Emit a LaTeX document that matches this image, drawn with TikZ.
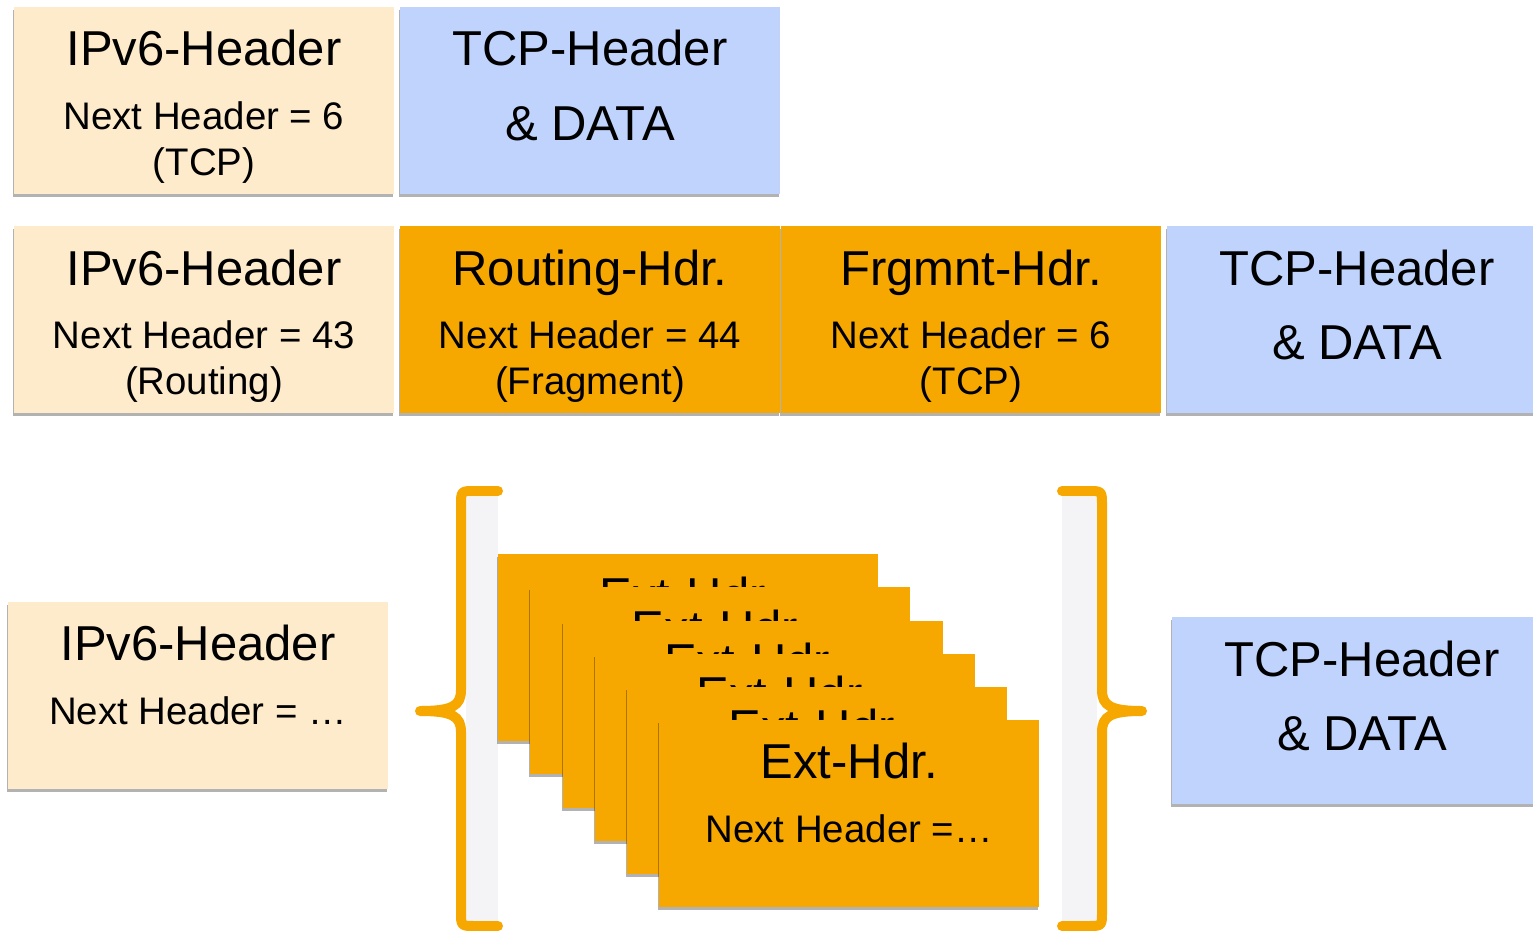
\documentclass[tikz,border=0pt]{standalone}
\usepackage{fontspec}
\setmainfont{Liberation Sans}
\usetikzlibrary{shadows}
\definecolor{beige}{HTML}{FDEBCC}
\definecolor{tcpblue}{HTML}{BFD3FD}
\definecolor{extorange}{HTML}{F6A800}
\definecolor{panelgray}{HTML}{F4F4F7}
\tikzset{
  box/.style={draw=none, inner sep=0pt, anchor=north west, minimum width=380pt, minimum height=187pt,
    drop shadow={shadow xshift=-1pt, shadow yshift=-3pt, fill=black, opacity=0.3}},
  ipv6/.style={box, fill=beige},
  tcp/.style={box, fill=tcpblue},
  ext/.style={box, fill=extorange},
  ttl/.style={anchor=base, inner sep=0pt, font=\fontsize{49}{58}\selectfont},
  sub/.style={anchor=base, inner sep=0pt, font=\fontsize{38.4}{46}\selectfont},
  brace/.style={draw=extorange, line width=10pt, line cap=round, line join=round},
}
\begin{document}
\begin{tikzpicture}[x=1pt, y=-1pt]
\clip (0,0) rectangle (1533,931);
\fill[white] (0,0) rectangle (1533,931);

% Row 1
\node[ipv6] (a1) at (14,7) {};
\node[ttl] (a1t) at (204,66) {IPv6-Header};
\node[sub] (a1s) at (204,129) {Next Header = 6};
\node[sub] (a1u) at (204,175) {(TCP)};
\node[tcp] (b1) at (400,7) {};
\node[ttl] (b1t) at (590,66) {TCP-Header};
\node[ttl] (b1u) at (590,140) {\& DATA};

% Row 2
\node[ipv6] (a2) at (14,226) {};
\node[ttl] (a2t) at (204,285) {IPv6-Header};
\node[sub] (a2s) at (204,348) {Next Header = 43};
\node[sub] (a2u) at (204,394) {(Routing)};
\node[ext] (r2) at (400,226) {};
\node[ttl] (r2t) at (590,285) {Routing-Hdr.};
\node[sub] (r2s) at (590,348) {Next Header = 44};
\node[sub] (r2u) at (590,394) {(Fragment)};
\node[ext] (f2) at (781,226) {};
\node[ttl] (f2t) at (971,285) {Frgmnt-Hdr.};
\node[sub] (f2s) at (971,348) {Next Header = 6};
\node[sub] (f2u) at (971,394) {(TCP)};
\node[tcp] (b2) at (1167,226) {};
\node[ttl] (b2t) at (1357,285) {TCP-Header};
\node[ttl] (b2u) at (1357,359) {\& DATA};

% Row 3
\node[ipv6] (a3) at (8,602) {};
\node[ttl] (a3t) at (198,660) {IPv6-Header};
\node[sub] (a3s) at (198,724) {Next Header = …};

% gray panels
\fill[panelgray] (466,497) rectangle (498,922);
\fill[panelgray] (1062,497) rectangle (1097,922);

% stacked extension headers (earlier ones mostly hidden)
\foreach \k in {0,...,4}{
  \node[ext] (e\k) at (498+32.2*\k,554+33.2*\k) {};
  \begin{scope}
    \clip (498+32.2*\k,554+33.2*\k) rectangle (1100,587+33.2*\k);
    \node[ttl] (e\k t) at ([yshift=-58pt]e\k.north) {Ext-Hdr.};
  \end{scope}
}
\node[ext] (e5) at (659,720) {};
\node[ttl] (e5t) at ([yshift=-58pt]e5.north) {Ext-Hdr.};
\node[sub] (e5s) at ([yshift=-122pt]e5.north) {Next Header =…};

% braces
\coordinate (lbt) at (498,491);
\coordinate (lbb) at (498,926);
\coordinate (lbtip) at (420,711);
\draw[brace] (lbt) -- (475,491) .. controls (461,491) .. (461,505) -- (461,690)
  .. controls (461,706) and (452,711) .. (lbtip)
  .. controls (452,711) and (461,716) .. (461,732) -- (461,912)
  .. controls (461,926) .. (475,926) -- (lbb);
\coordinate (rbt) at (1062,491);
\coordinate (rbb) at (1062,926);
\coordinate (rbtip) at (1142,711);
\draw[brace] (rbt) -- (1088,491) .. controls (1102,491) .. (1102,505) -- (1102,690)
  .. controls (1102,706) and (1111,711) .. (rbtip)
  .. controls (1111,711) and (1102,716) .. (1102,732) -- (1102,912)
  .. controls (1102,926) .. (1088,926) -- (rbb);

% Row 3 TCP
\node[tcp] (b3) at (1172,617) {};
\node[ttl] (b3t) at (1362,676) {TCP-Header};
\node[ttl] (b3u) at (1362,750) {\& DATA};
\end{tikzpicture}
\end{document}
